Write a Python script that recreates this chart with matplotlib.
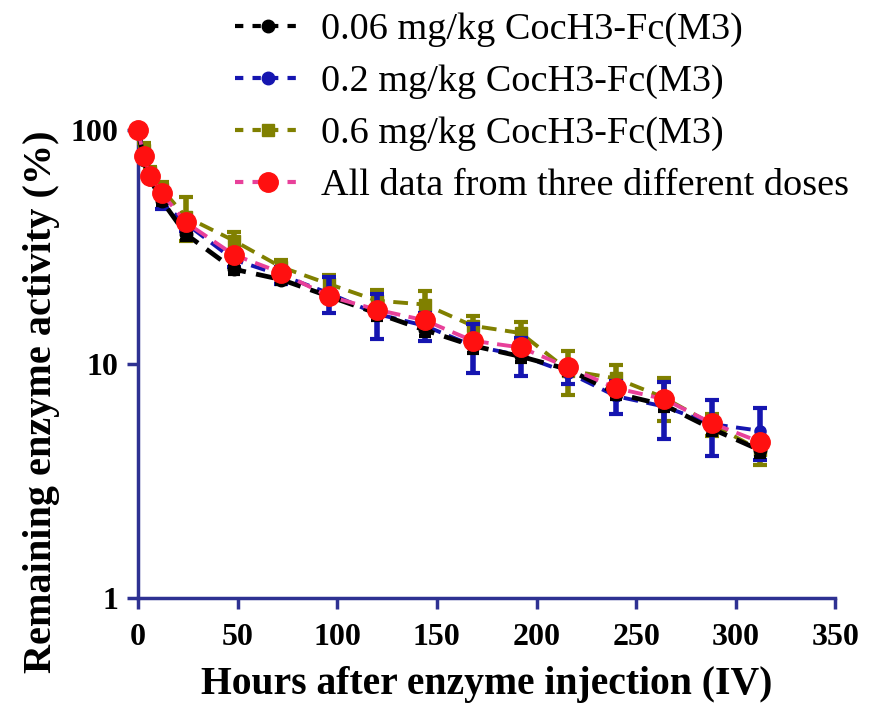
import matplotlib
matplotlib.use("Agg")
import matplotlib.pyplot as plt
from matplotlib.lines import Line2D
from matplotlib.ticker import FixedLocator, NullLocator

plt.rcParams['font.family'] = ['Liberation Serif', 'DejaVu Serif']

# sampling times (h)
hours = [0, 3, 6, 12, 24, 48, 72, 96, 120, 144, 168, 192, 216, 240, 264, 288, 312]

# remaining activity (%) per dose, mean and SD
low_mean = [100, 75, 62, 50, 36, 25.5, 23, 19.5, 16.5, 14, 12, 10.8, 9.5, 7.5, 6.7, 5.3, 4.3]
low_sd = [0, 2, 2, 2, 2, 1.2, 1, 1, 1, 0.8, 0.8, 0.6, 0.5, 0.4, 0.4, 0.3, 0.3]

mid_mean = [100, 78, 64, 49, 40, 28, 24, 20.1, 16.4, 14.6, 12.0, 10.9, 9.2, 7.3, 6.6, 5.55, 5.2]
mid_sd = [0, 4, 3, 3, 3, 2, 2, 3.5, 3.6, 2.0, 2.8, 2.0, 1.0, 1.2, 1.8, 1.5, 1.3]

high_mean = [100, 82, 66, 56, 42.7, 33.8, 26, 22, 18.7, 18.0, 14.6, 13.6, 9.4, 8.7, 7.2, 5.55, 4.3]
high_sd = [0, 6, 4, 4, 9, 3, 2, 2, 2, 2.5, 1.5, 1.5, 2.0, 1.2, 1.5, 0.6, 0.6]

all_mean = [100, 77.4, 64, 53.7, 40.4, 29.4, 24.6, 19.5, 17.1, 15.4, 12.6, 11.8, 9.7, 7.9, 7.1, 5.6, 4.66]

labels = ['0.06 mg/kg CocH3-Fc(M3)', '0.2 mg/kg CocH3-Fc(M3)',
          '0.6 mg/kg CocH3-Fc(M3)', 'All data from three different doses']

navy = '#2E3192'
olive = '#808000'
blue = '#1515B0'
pink = '#E8409A'
red = '#FF1010'

fig = plt.figure(figsize=(8.73, 7.08), dpi=100)
ax = fig.add_axes([0.158, 0.155, 0.799, 0.661])

dash = (0, (3.8, 2.2))
ax.errorbar(hours, high_mean, yerr=high_sd, color=olive, marker='s', ms=8,
            ls=dash, lw=2.8, elinewidth=4, capsize=5, capthick=3, zorder=3,
            clip_on=False)
ax.errorbar(hours, mid_mean, yerr=mid_sd, color=blue, marker='o', ms=8,
            ls=dash, lw=2.8, elinewidth=4, capsize=5, capthick=3, zorder=4,
            clip_on=False)
ax.errorbar(hours, low_mean, yerr=low_sd, color='black', marker='o', ms=9,
            ls=dash, lw=3.4, elinewidth=3, capsize=4, capthick=3, zorder=5,
            clip_on=False)
ax.plot(hours, all_mean, color=pink, ls=dash, lw=2.8, marker='o', ms=14,
        mfc=red, mec=red, zorder=6, clip_on=False)

ax.set_yscale('log')
ax.set_ylim(1, 100)
ax.set_xlim(0, 350)
ax.yaxis.set_major_locator(FixedLocator([1, 10, 100]))
ax.yaxis.set_minor_locator(NullLocator())
ax.set_yticklabels(['1', '10', '100'])
ax.set_xticks(range(0, 351, 50))

for side in ['top', 'right']:
    ax.spines[side].set_visible(False)
for side in ['left', 'bottom']:
    ax.spines[side].set_color(navy)
    ax.spines[side].set_linewidth(2.5)
ax.tick_params(colors=navy, width=2.5, length=8, direction='out', pad=6)
ax.tick_params(axis='x', pad=10)
for lab in ax.get_xticklabels() + ax.get_yticklabels():
    lab.set_color('black')
    lab.set_fontsize(23)
    lab.set_fontweight('bold')

ax.set_xlabel('Hours after enzyme injection (IV)', fontsize=28.5, fontweight='bold',
              labelpad=10)
ax.set_ylabel('Remaining enzyme activity (%)', fontsize=29, fontweight='bold')
ax.yaxis.set_label_coords(-0.112, 0.42)
ax.patch.set_alpha(0)

# legend handles: short dashed stroke with the series marker
handles = [
    Line2D([], [], color='black', ls=(0, (2, 2.2)), lw=3, marker='o', ms=9),
    Line2D([], [], color=blue, ls=(0, (2, 2.2)), lw=3, marker='o', ms=9),
    Line2D([], [], color=olive, ls=(0, (2, 2.2)), lw=3, marker='s', ms=9),
    Line2D([], [], color=pink, ls=(0, (2, 2.2)), lw=3, marker='o', ms=14,
           mfc=red, mec=red),
]
fig.legend(handles, labels, loc='upper left', bbox_to_anchor=(0.243, 1.015),
           frameon=False, fontsize=27.5, handlelength=1.7, handletextpad=0.55,
           labelspacing=0.45, borderaxespad=0.2)

fig.savefig('out.png', dpi=100)
